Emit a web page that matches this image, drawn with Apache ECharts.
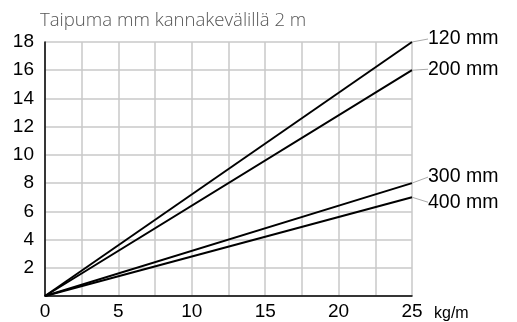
<!DOCTYPE html>
<html>
<head>
<meta charset="utf-8">
<script src="https://cdn.jsdelivr.net/npm/echarts@6/dist/echarts.min.js"></script>
<style>
  html, body { margin: 0; padding: 0; background: #fff; }
  #chart { width: 517px; height: 322px; }
</style>
</head>
<body>
<div id="chart"></div>
<script>
// Deflection (mm) over a 2 m support span, by load (kg/m), for four profile heights
const loads = [0, 25];
const seriesNames = ['120 mm', '200 mm', '300 mm', '400 mm'];
const deflection120 = [0, 18];
const deflection200 = [0, 16];
const deflection300 = [0, 8];
const deflection400 = [0, 7];
const yTicks = [0, 2, 4, 6, 8, 10, 12, 14, 16, 18];
const xTicks = [0, 5, 10, 15, 20, 25];

const seriesValues = [deflection120, deflection200, deflection300, deflection400];
// vertical nudge of each end label so close lines stay readable
const labelShift = [-3, -1, -6, 5];

const chart = echarts.init(document.getElementById('chart'), null, { renderer: 'canvas' });

const series = seriesValues.map((vals, i) => ({
  name: seriesNames[i],
  type: 'line',
  symbol: 'circle',
  symbolSize: 0,
  showSymbol: true,
  silent: true,
  lineStyle: { color: '#000', width: 2 },
  itemStyle: { color: '#000' },
  data: vals.map((v, j) => {
    const last = j === vals.length - 1;
    return {
      value: [loads[j], v],
      label: {
        show: last,
        position: 'right',
        distance: 16,
        formatter: seriesNames[i],
        color: '#000',
        fontFamily: 'Liberation Sans, Arial, sans-serif',
        fontSize: 19.5
      },
      labelLine: {
        show: last,
        lineStyle: { color: '#aaa', width: 1 }
      }
    };
  }),
  labelLayout: { dy: labelShift[i] },
  z: 3
}));

chart.setOption({
  animation: false,
  backgroundColor: '#fff',
  title: {
    text: 'Taipuma mm kannakevälillä 2 m',
    left: 35,
    top: 6,
    textStyle: {
      fontFamily: 'Open Sans, sans-serif',
      fontWeight: 300,
      fontSize: 18.6,
      color: '#555'
    }
  },
  grid: { left: 45, right: 105, top: 42, bottom: 23, containLabel: false },
  xAxis: {
    type: 'value',
    min: xTicks[0],
    max: xTicks[xTicks.length - 1],
    interval: 2.5,
    name: 'kg/m',
    nameLocation: 'end',
    nameGap: 22,
    nameTextStyle: {
      fontFamily: 'Liberation Sans, Arial, sans-serif',
      fontSize: 16,
      color: '#000',
      verticalAlign: 'top',
      padding: [10, 0, 0, 0]
    },
    axisLine: { show: true, lineStyle: { color: '#000', width: 1.5 } },
    axisTick: { show: false },
    axisLabel: {
      margin: 6,
      color: '#000',
      fontFamily: 'Liberation Sans, Arial, sans-serif',
      fontSize: 19,
      formatter: v => (xTicks.indexOf(v) >= 0 ? String(v) : '')
    },
    splitLine: { show: true, lineStyle: { color: '#c8c8c8', width: 1.5 } }
  },
  yAxis: {
    type: 'value',
    min: yTicks[0],
    max: yTicks[yTicks.length - 1],
    interval: 2,
    axisLine: { show: true, lineStyle: { color: '#000', width: 1.5 } },
    axisTick: { show: false },
    axisLabel: {
      margin: 11,
      color: '#000',
      fontFamily: 'Liberation Sans, Arial, sans-serif',
      fontSize: 19,
      formatter: v => (v === 0 ? '' : String(v))
    },
    splitLine: { show: true, lineStyle: { color: '#c8c8c8', width: 1.5 } }
  },
  series: series
});
</script>
</body>
</html>
